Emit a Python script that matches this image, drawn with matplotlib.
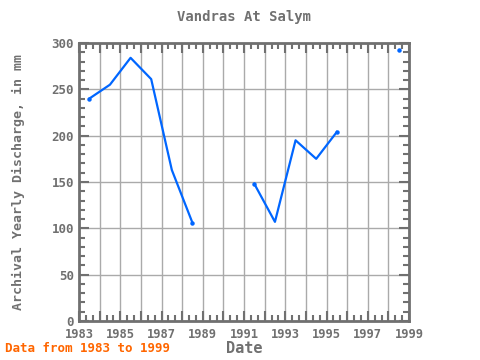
import numpy as np
import matplotlib.pyplot as plt
import matplotlib.transforms as mtransforms
from matplotlib.ticker import MultipleLocator

plt.rcParams['font.family'] = ['DejaVu Sans Mono']

# yearly discharge, mm (None = no data)
anos = [1983.5, 1984.5, 1985.5, 1986.5, 1987.5, 1988.5, 1989.5, 1990.5,
        1991.5, 1992.5, 1993.5, 1994.5, 1995.5, 1996.5, 1997.5, 1998.5]
descarga = [240, 255, 284, 261, 163, 106, None, None,
            148, 107, 195, 175, 204, None, None, 292]

y = np.array([np.nan if v is None else v for v in descarga], dtype=float)
x = np.array(anos)

cinza = '#707070'
azul = '#0066ff'

fig = plt.figure(figsize=(4.8, 3.6), dpi=100)
ax = fig.add_axes([0.1646, 0.1083, 0.6875, 0.7723])

ax.plot(x, y, color=azul, lw=1.6, marker='o', ms=2.2, markevery=[0, 5, 8, 12, 15])

ax.set_xlim(1983, 1999)
ax.set_ylim(0, 300)
ax.xaxis.set_minor_locator(MultipleLocator(1 / 3))
ax.yaxis.set_major_locator(MultipleLocator(50))
ax.yaxis.set_minor_locator(MultipleLocator(10))
ax.set_xticks(np.arange(1983, 2000, 1))
ax.set_xticklabels([str(a) if (a - 1983) % 2 == 0 else '' for a in range(1983, 2000)])

ax.grid(True, which='major', color='#aaaaaa', lw=1)
ax.tick_params(which='both', direction='in', top=True, right=True, colors=cinza,
               labelsize=9, width=1.5)
ax.tick_params(which='major', length=7)
ax.tick_params(axis='x', which='major', pad=5, labelsize=8.7)
ax.tick_params(which='minor', length=4)

# the end labels sit inside the frame, as in the original
ylabs = ax.get_yticklabels()
ylabs[0].set_transform(ylabs[0].get_transform() +
                       mtransforms.ScaledTranslation(0, 4 / 100, fig.dpi_scale_trans))
ylabs[-1].set_transform(ylabs[-1].get_transform() +
                        mtransforms.ScaledTranslation(0, -3 / 100, fig.dpi_scale_trans))
for lab in ax.get_xticklabels() + ylabs:
    lab.set_fontweight('bold')
    lab.set_color(cinza)
for s in ax.spines.values():
    s.set_color(cinza)
    s.set_linewidth(2)

ax.set_title('Vandras At Salym', color=cinza, fontsize=10, fontweight='bold', pad=16)
ax.set_xlabel('Date', color=cinza, fontsize=11, fontweight='bold', labelpad=0)
ax.set_ylabel('Archival Yearly Discharge, in mm', color=cinza, fontsize=9.5,
              fontweight='bold', labelpad=19)

fig.text(0.01, 0.022, 'Data from 1983 to 1999', color='#ff6600', fontsize=9,
         fontweight='bold')

fig.savefig('out.png', dpi=100)
